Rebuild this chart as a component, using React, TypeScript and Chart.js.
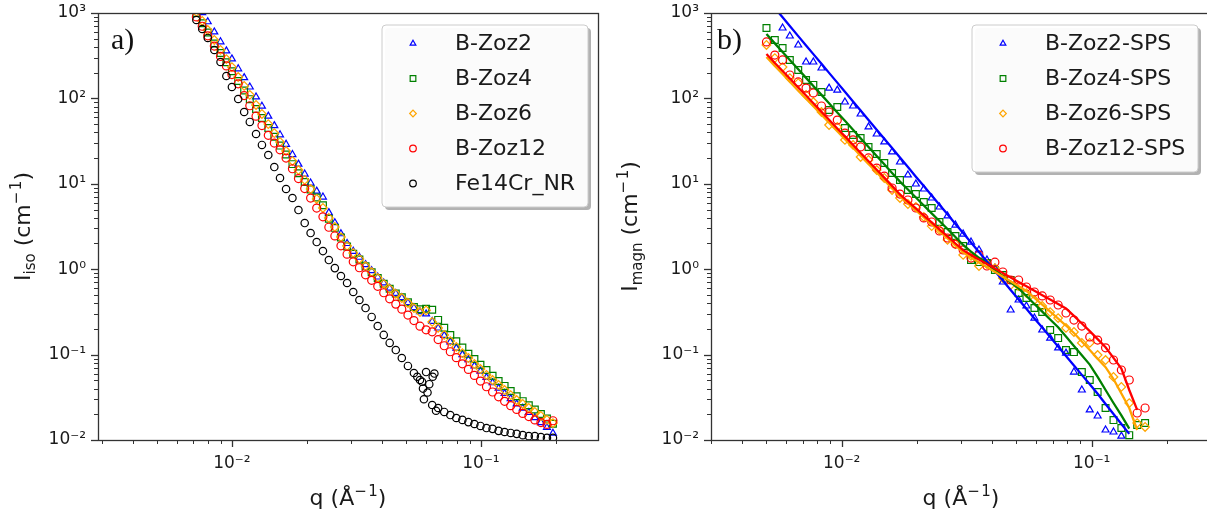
import React, { useEffect, useRef } from 'react';
import { Chart, registerables } from 'chart.js';
import { drawPoint } from 'chart.js/helpers';

Chart.register(...registerables);

const FONT = "'DejaVu Sans', sans-serif";
Chart.defaults.font.family = FONT;

// ---------- Panel a: isotropic ----------
const qIso = [0.0072, 0.0076, 0.0080, 0.0085, 0.0090, 0.0095, 0.0100, 0.0106, 0.0112, 0.0118, 0.0125, 0.0132, 0.0140, 0.0148, 0.0156, 0.0165, 0.0175, 0.0185, 0.0196, 0.0207, 0.0219, 0.0232, 0.0245, 0.0259, 0.0274, 0.0290, 0.0307, 0.0325, 0.0344, 0.0364, 0.0385, 0.0407, 0.0430, 0.0455, 0.0481, 0.0509, 0.0538, 0.0569, 0.0602, 0.0637, 0.0673, 0.0712, 0.0753, 0.0796, 0.0842, 0.0890, 0.0941, 0.0995, 0.1052, 0.1113, 0.1177, 0.1244, 0.1316, 0.1391, 0.1471, 0.1556, 0.1645, 0.1740, 0.1840, 0.1945];
const isoZoz2 = [1290, 1010, 790, 600, 460, 360, 290, 222, 175, 136, 104, 81, 62, 48, 37.5, 29, 22, 17, 13, 10.2, 8.2, 7.0, 4.6, 3.5, 2.6, 2.0, 1.62, 1.38, 1.13, 0.96, 0.81, 0.69, 0.60, 0.52, 0.465, 0.405, 0.355, 0.318, 0.300, 0.245, 0.205, 0.168, 0.141, 0.119, 0.100, 0.0870, 0.0735, 0.0640, 0.0540, 0.0468, 0.0405, 0.0352, 0.0305, 0.0265, 0.0236, 0.0210, 0.0183, 0.0160, 0.0140, 0.0120];
const isoZoz4 = [1000, 760, 590, 440, 340, 265, 208, 160, 124, 98, 75, 59, 45, 35.5, 28, 22, 17, 13.3, 10.5, 8.6, 6.9, 5.6, 3.9, 3.05, 2.35, 1.85, 1.52, 1.30, 1.08, 0.92, 0.79, 0.675, 0.59, 0.52, 0.47, 0.41, 0.36, 0.34, 0.345, 0.335, 0.255, 0.206, 0.170, 0.143, 0.121, 0.102, 0.0890, 0.0760, 0.0660, 0.0565, 0.0490, 0.0430, 0.0375, 0.0326, 0.0285, 0.0255, 0.0228, 0.0202, 0.0178, 0.0155];
const isoZoz6 = [1028, 806, 632, 483, 369, 289, 233, 178, 140, 110, 83.7, 65.7, 50.1, 39.3, 30.9, 24.2, 18.5, 14.5, 11.1, 8.69, 6.64, 5.21, 3.98, 3.12, 2.38, 1.87, 1.55, 1.32, 1.09, 0.927, 0.789, 0.671, 0.586, 0.513, 0.460, 0.402, 0.351, 0.315, 0.330, 0.241, 0.205, 0.170, 0.144, 0.123, 0.104, 0.0912, 0.0776, 0.0678, 0.0577, 0.0504, 0.0441, 0.0385, 0.0336, 0.0294, 0.0264, 0.0237, 0.0213, 0.0191, 0.0172, 0.0158];
const isoZoz12 = [900, 700, 540, 410, 310, 240, 190, 148, 108, 82, 62, 48, 37, 30, 25, 20, 15, 11.5, 8.8, 6.8, 5.2, 4.1, 3.1, 2.45, 1.88, 1.50, 1.22, 1.04, 0.86, 0.74, 0.63, 0.53, 0.45, 0.39, 0.34, 0.29, 0.25, 0.215, 0.195, 0.185, 0.150, 0.127, 0.108, 0.092, 0.078, 0.067, 0.0570, 0.0490, 0.0420, 0.0365, 0.0320, 0.0284, 0.0252, 0.0228, 0.0205, 0.0188, 0.0172, 0.0160, 0.0152, 0.0168];
const isoFe14Cr = [828, 650, 510, 369, 267, 183, 136, 98.4, 69.3, 53.0, 38.3, 28.5, 21.7, 15.7, 11.7, 8.69, 6.82, 4.93, 3.47, 2.65, 2.08, 1.63, 1.28, 1.03, 0.832, 0.689, 0.541, 0.436, 0.351, 0.276, 0.216, 0.170, 0.137, 0.113, 0.0912, 0.0736, 0.0609, 0.0504, 0.0625, 0.0257, 0.0237, 0.0213, 0.0196, 0.0181, 0.0172, 0.0162, 0.0154, 0.0146, 0.0138, 0.0135, 0.0128, 0.0124, 0.0121, 0.0118, 0.0114, 0.0111, 0.0111, 0.0108, 0.0106, 0.0106];
const fe14CrExtraQ = [0.0555, 0.0580, 0.0585, 0.0590, 0.0610, 0.0620, 0.0640, 0.0650, 0.0660];
const fe14CrExtraI = [0.055, 0.048, 0.040, 0.030, 0.036, 0.045, 0.055, 0.060, 0.022];
const isoLabels = ['B-Zoz2', 'B-Zoz4', 'B-Zoz6', 'B-Zoz12', 'Fe14Cr_NR'];

// ---------- Panel b: magnetic ----------
const qMagn = [0.0050, 0.0054, 0.0058, 0.0062, 0.0067, 0.0072, 0.0077, 0.0083, 0.0089, 0.0096, 0.0103, 0.0111, 0.0119, 0.0128, 0.0138, 0.0148, 0.0159, 0.0171, 0.0184, 0.0198, 0.0213, 0.0229, 0.0246, 0.0265, 0.0285, 0.0306, 0.0329, 0.0354, 0.0381, 0.0410, 0.0441, 0.0474, 0.0510, 0.0548, 0.0590, 0.0634, 0.0682, 0.0734, 0.0789, 0.0849, 0.0913, 0.0982, 0.1056, 0.1136, 0.1222, 0.1314, 0.1413, 0.1520, 0.1635];
const magnZoz2 = [1300, 1200, 667, 538, 422, 267, 267, 227, 132, 125, 90.7, 81.5, 65.7, 46.3, 38.3, 30.9, 23.6, 18.0, 12.7, 9.94, 8.69, 6.82, 5.35, 4.20, 3.29, 2.58, 2.08, 1.68, 1.28, 1.03, 0.708, 0.333, 0.436, 0.371, 0.268, 0.194, 0.156, 0.120, 0.104, 0.0625, 0.0385, 0.0225, 0.0191, 0.0131, 0.0124, 0.0111];
const magnZoz4 = [667, 483, 389, 282, 215, 164, 144, 119, 73.1, 79.3, 45.0, 37.3, 34.4, 27.0, 22.3, 17.5, 13.4, 11.1, 8.46, 7.59, 6.12, 5.21, 3.57, 2.73, 2.45, 1.87, 1.28, 1.21, 1.18, 0.979, 0.855, 0.747, 0.526, 0.460, 0.351, 0.315, 0.194, 0.156, 0.113, 0.107, 0.0625, 0.0504, 0.0365, 0.0237, 0.0171, 0.0138, 0.0114, 0.0150, 0.0158];
const magnZoz6 = [422, 297, 233, 173, 151, 110, 90.7, 69.3, 48.8, 46.3, 32.6, 28.5, 20.6, 19.0, 14.5, 11.7, 8.46, 6.82, 5.80, 5.35, 4.09, 3.20, 2.88, 2.20, 1.97, 1.47, 1.43, 1.09, 1.15, 1.03, 0.789, 0.653, 0.636, 0.526, 0.436, 0.371, 0.315, 0.268, 0.205, 0.184, 0.137, 0.137, 0.0989, 0.0864, 0.0547, 0.0418, 0.0271, 0.0158, 0.0142];
const magnZoz12 = [458, 322, 282, 188, 156, 132, 116, 81.5, 69.3, 55.8, 39.3, 32.6, 27.0, 20.1, 15.3, 12.3, 8.93, 7.59, 6.46, 5.21, 3.98, 3.57, 2.80, 2.32, 1.97, 1.68, 1.35, 1.47, 1.09, 1.21, 0.927, 0.747, 0.747, 0.619, 0.541, 0.486, 0.436, 0.381, 0.307, 0.254, 0.216, 0.161, 0.148, 0.120, 0.0864, 0.0660, 0.0504, 0.0207, 0.0237];
const fitZoz2 = [1498, 1144, 890, 704, 536, 417, 330, 254, 199, 153, 119.5, 92.0, 72.0, 55.8, 43.0, 33.6, 26.2, 20.3, 15.7, 12.1, 9.40, 7.31, 5.69, 4.39, 3.39, 2.65, 2.06, 1.59, 1.23, 0.953, 0.738, 0.572, 0.443, 0.345, 0.265, 0.207, 0.161, 0.124, 0.0963, 0.0745, 0.0579, 0.0449, 0.0348, 0.0264, 0.0202, 0.0154, 0.0118];
const fitZoz4 = [568, 441, 349, 282, 219, 174, 140, 110, 87.6, 68.4, 54.7, 42.9, 34.2, 27.0, 21.2, 16.9, 13.4, 10.6, 8.58, 6.91, 5.57, 4.51, 3.67, 2.96, 2.38, 1.92, 1.61, 1.36, 1.16, 0.979, 0.828, 0.704, 0.597, 0.486, 0.391, 0.319, 0.258, 0.209, 0.163, 0.126, 0.0981, 0.0764, 0.0547, 0.0385, 0.0271, 0.0194, 0.0136];
const fitZoz6 = [305, 240, 193, 157, 123, 99.2, 80.8, 64.3, 51.9, 41.2, 33.3, 26.4, 21.3, 17.1, 13.6, 11.0, 8.83, 7.10, 5.88, 4.87, 4.03, 3.35, 2.79, 2.29, 1.90, 1.58, 1.37, 1.20, 1.06, 0.930, 0.817, 0.720, 0.632, 0.557, 0.462, 0.385, 0.319, 0.264, 0.219, 0.179, 0.142, 0.113, 0.0895, 0.0712, 0.0518, 0.0350, 0.0237, 0.0131];
const fitZoz12 = [331, 260, 209, 171, 134, 108, 87.6, 69.5, 56.2, 44.4, 35.9, 28.5, 22.9, 18.4, 14.6, 11.8, 9.45, 7.49, 6.20, 5.14, 4.25, 3.53, 2.93, 2.42, 2.00, 1.67, 1.47, 1.30, 1.15, 1.02, 0.903, 0.802, 0.710, 0.631, 0.558, 0.496, 0.441, 0.390, 0.347, 0.284, 0.231, 0.188, 0.152, 0.122, 0.0915, 0.0686, 0.0385, 0.0225];
const magnLabels = ['B-Zoz2-SPS', 'B-Zoz4-SPS', 'B-Zoz6-SPS', 'B-Zoz12-SPS'];

const BLUE = '#0000ff';
const GREEN = '#008000';
const ORANGE = '#ffa500';
const RED = '#ff0000';
const BLACK = '#000000';

const pairs = (q: number[], v: number[]) => v.map((y, i) => ({ x: q[i], y }));

const SUP: Record<string, string> = { '-': '⁻', '0': '⁰', '1': '¹', '2': '²', '3': '³', '4': '⁴', '5': '⁵' };
const powLabel = (v: any) => {
  const e = Math.round(Math.log10(Number(v)));
  return '10' + String(e).split('').map((c) => SUP[c] || c).join('');
};
const decadeTicks = (scale: any) => {
  const lo = Math.ceil(Math.log10(scale.min) - 1e-9);
  const hi = Math.floor(Math.log10(scale.max) + 1e-9);
  const t: any[] = [];
  for (let e = lo; e <= hi; e++) t.push({ value: Math.pow(10, e), major: true });
  scale.ticks = t;
};
const zeroPad = (s: any) => {
  s.paddingTop = 0; s.paddingBottom = 0; s.paddingLeft = 0; s.paddingRight = 0;
};

type Seg = { t: string; k?: 'sub' | 'sup' };

function richText(ctx: CanvasRenderingContext2D, segs: Seg[], cx: number, cy: number, size: number, rotate: boolean) {
  ctx.save();
  ctx.translate(cx, cy);
  if (rotate) ctx.rotate(-Math.PI / 2);
  const fontFor = (s: Seg) => `${s.k ? Math.round(size * 0.7) : size}px ${FONT}`;
  const widths = segs.map((s) => { ctx.font = fontFor(s); return ctx.measureText(s.t).width; });
  const total = widths.reduce((a, b) => a + b, 0);
  let x = -total / 2;
  ctx.textBaseline = 'alphabetic';
  ctx.textAlign = 'left';
  ctx.fillStyle = '#1a1a1a';
  const base = size * 0.36;
  segs.forEach((s, i) => {
    ctx.font = fontFor(s);
    const dy = s.k === 'sub' ? size * 0.24 : s.k === 'sup' ? -size * 0.42 : 0;
    ctx.fillText(s.t, x, base + dy);
    x += widths[i];
  });
  ctx.restore();
}

function logTicks(ctx: CanvasRenderingContext2D, scale: any, axis: 'x' | 'y', area: any) {
  const e0 = Math.floor(Math.log10(scale.min)) - 1;
  const e1 = Math.ceil(Math.log10(scale.max));
  for (let e = e0; e <= e1; e++) {
    for (let k = 1; k <= 9; k++) {
      const v = k * Math.pow(10, e);
      if (v < scale.min * 0.9999 || v > scale.max * 1.0001) continue;
      const p = Math.round(scale.getPixelForValue(v)) + 0.5;
      const major = k === 1;
      const len = major ? 7 : 4;
      ctx.lineWidth = major ? 1.3 : 1;
      ctx.beginPath();
      if (axis === 'y') {
        ctx.moveTo(area.left, p);
        ctx.lineTo(area.left - len, p);
      } else {
        ctx.moveTo(p, area.bottom);
        ctx.lineTo(p, area.bottom + len);
      }
      ctx.stroke();
    }
  }
}

function roundRect(ctx: CanvasRenderingContext2D, x: number, y: number, w: number, h: number, r: number) {
  ctx.beginPath();
  ctx.moveTo(x + r, y);
  ctx.lineTo(x + w - r, y);
  ctx.quadraticCurveTo(x + w, y, x + w, y + r);
  ctx.lineTo(x + w, y + h - r);
  ctx.quadraticCurveTo(x + w, y + h, x + w - r, y + h);
  ctx.lineTo(x + r, y + h);
  ctx.quadraticCurveTo(x, y + h, x, y + h - r);
  ctx.lineTo(x, y + r);
  ctx.quadraticCurveTo(x, y, x + r, y);
  ctx.closePath();
}

type Decor = {
  yTitle: Seg[];
  yTitleX: number;
  tag: string;
  tagX: number;
  legend: { x: number; y: number; w: number; h: number };
};

function makeDecor(d: Decor) {
  return {
    id: 'decor',
    afterDraw(chart: any) {
      const ctx: CanvasRenderingContext2D = chart.ctx;
      const a = chart.chartArea;
      ctx.save();
      ctx.strokeStyle = '#333333';
      logTicks(ctx, chart.scales.y, 'y', a);
      logTicks(ctx, chart.scales.x, 'x', a);
      ctx.lineWidth = 1.3;
      ctx.strokeRect(Math.round(a.left) + 0.5, Math.round(a.top) + 0.5, Math.round(a.right - a.left), Math.round(a.bottom - a.top));

      // axis titles
      richText(ctx, [{ t: 'q (Å' }, { t: '−\u200A1', k: 'sup' }, { t: ')' }], (a.left + a.right) / 2, 497, 22, false);
      richText(ctx, d.yTitle, d.yTitleX, (a.top + a.bottom) / 2, 22, true);

      // panel tag
      ctx.font = "30px 'Liberation Serif', serif";
      ctx.fillStyle = '#111111';
      ctx.textAlign = 'left';
      ctx.textBaseline = 'alphabetic';
      ctx.fillText(d.tag, d.tagX, 49);

      // legend
      const L = d.legend;
      ctx.fillStyle = 'rgba(0,0,0,0.3)';
      roundRect(ctx, L.x + 3, L.y + 3, L.w, L.h, 4);
      ctx.fill();
      ctx.fillStyle = 'rgba(255,255,255,0.95)';
      roundRect(ctx, L.x, L.y, L.w, L.h, 4);
      ctx.fill();
      ctx.strokeStyle = '#cccccc';
      ctx.lineWidth = 1;
      ctx.stroke();
      const entries = chart.data.datasets.filter((ds: any) => !ds.showLine);
      entries.forEach((ds: any, i: number) => {
        const yy = L.y + 18.5 + i * 35;
        ctx.strokeStyle = ds.borderColor;
        ctx.fillStyle = 'rgba(0,0,0,0)';
        ctx.lineWidth = 1.2;
        drawPoint(ctx, { pointStyle: ds.pointStyle, rotation: 0, radius: ds.pointStyle === 'rect' ? 4 : 3.3, borderWidth: 1.2 } as any, L.x + 31, yy);
        ctx.fillStyle = '#1a1a1a';
        ctx.font = `22px ${FONT}`;
        ctx.textBaseline = 'middle';
        ctx.textAlign = 'left';
        ctx.fillText(ds.label, L.x + 73, yy + 1);
      });
      ctx.restore();
    },
  };
}

const pointSet = (label: string, data: any[], color: string, style: string, radius: number, order: number) => ({
  label,
  data,
  borderColor: color,
  backgroundColor: 'rgba(0,0,0,0)',
  pointStyle: style,
  pointRadius: radius,
  pointBorderWidth: 1.2,
  pointBorderColor: color,
  pointBackgroundColor: 'rgba(0,0,0,0)',
  showLine: false,
  order,
});

const lineSet = (data: any[], color: string, order: number) => ({
  label: '',
  data,
  borderColor: color,
  borderWidth: 2.3,
  pointRadius: 0,
  showLine: true,
  fill: false,
  tension: 0,
  order,
});

function buildConfig(o: {
  datasets: any[];
  xMin: number;
  xMax: number;
  yWidth: number;
  padRight: number;
  decor: Decor;
}) {
  const tickFont = { family: FONT, size: 17 };
  return {
    type: 'scatter',
    data: { datasets: o.datasets },
    options: {
      responsive: false,
      animation: false,
      devicePixelRatio: 1,
      events: [],
      layout: { padding: { left: 0, top: 13, right: o.padRight, bottom: 0 } },
      plugins: { legend: { display: false }, tooltip: { enabled: false } },
      scales: {
        x: {
          type: 'logarithmic',
          position: 'bottom',
          min: o.xMin,
          max: o.xMax,
          grid: { display: false, drawTicks: false },
          border: { display: false },
          afterBuildTicks: decadeTicks,
          afterFit: (s: any) => { s.height = 75; zeroPad(s); },
          ticks: { callback: powLabel, font: tickFont, color: '#1a1a1a', padding: 13, autoSkip: false, maxRotation: 0 },
        },
        y: {
          type: 'logarithmic',
          position: 'left',
          min: 0.01,
          max: 1000,
          grid: { display: false, drawTicks: false },
          border: { display: false },
          afterBuildTicks: decadeTicks,
          afterFit: (s: any) => { s.width = o.yWidth; zeroPad(s); },
          ticks: { callback: powLabel, font: tickFont, color: '#1a1a1a', padding: 12, autoSkip: false },
        },
      },
    },
    plugins: [makeDecor(o.decor)],
  } as any;
}

function ChartPanel({ left, width, config }: { left: number; width: number; config: () => any }) {
  const ref = useRef<HTMLCanvasElement>(null);
  useEffect(() => {
    const chart = new Chart(ref.current as HTMLCanvasElement, config());
    return () => chart.destroy();
  }, []);
  return (
    <canvas
      ref={ref}
      width={width}
      height={515}
      style={{ position: 'absolute', left, top: 0, width, height: 515, display: 'block' }}
    />
  );
}

const isoConfig = () =>
  buildConfig({
    datasets: [
      pointSet(isoLabels[0], pairs(qIso, isoZoz2), BLUE, 'triangle', 4, 5),
      pointSet(isoLabels[1], pairs(qIso, isoZoz4), GREEN, 'rect', 4.8, 4),
      pointSet(isoLabels[2], pairs(qIso, isoZoz6), ORANGE, 'rectRot', 4.3, 3),
      pointSet(isoLabels[3], pairs(qIso, isoZoz12), RED, 'circle', 4, 2),
      pointSet(isoLabels[4], pairs(qIso, isoFe14Cr).concat(pairs(fe14CrExtraQ, fe14CrExtraI)), BLACK, 'circle', 3.7, 1),
    ],
    xMin: 0.0029,
    xMax: 0.295,
    yWidth: 98,
    padRight: 7,
    decor: {
      yTitle: [{ t: 'I' }, { t: 'iso', k: 'sub' }, { t: ' (cm' }, { t: '−\u200A1', k: 'sup' }, { t: ')' }],
      yTitleX: 22,
      tag: 'a)',
      tagX: 111,
      legend: { x: 382, y: 25, w: 206, h: 182 },
    },
  });

const magnConfig = () =>
  buildConfig({
    datasets: [
      pointSet(magnLabels[0], pairs(qMagn, magnZoz2), BLUE, 'triangle', 4, 8),
      pointSet(magnLabels[1], pairs(qMagn, magnZoz4), GREEN, 'rect', 4.8, 7),
      pointSet(magnLabels[2], pairs(qMagn, magnZoz6), ORANGE, 'rectRot', 4.3, 6),
      pointSet(magnLabels[3], pairs(qMagn, magnZoz12), RED, 'circle', 4, 5),
      lineSet(pairs(qMagn, fitZoz2), BLUE, 4),
      lineSet(pairs(qMagn, fitZoz4), GREEN, 3),
      lineSet(pairs(qMagn, fitZoz6), ORANGE, 2),
      lineSet(pairs(qMagn, fitZoz12), RED, 1),
    ],
    xMin: 0.003,
    xMax: 0.3,
    yWidth: 106,
    padRight: 14,
    decor: {
      yTitle: [{ t: 'I' }, { t: 'magn', k: 'sub' }, { t: ' (cm' }, { t: '−\u200A1', k: 'sup' }, { t: ')' }],
      yTitleX: 24,
      tag: 'b)',
      tagX: 112,
      legend: { x: 367, y: 25, w: 226, h: 147 },
    },
  });

export default function App() {
  return (
    <div style={{ position: 'absolute', left: 0, top: 0, width: 1207, height: 515, overflow: 'hidden', background: '#ffffff' }}>
      <ChartPanel left={0} width={605} config={isoConfig} />
      <ChartPanel left={605} width={620} config={magnConfig} />
    </div>
  );
}
